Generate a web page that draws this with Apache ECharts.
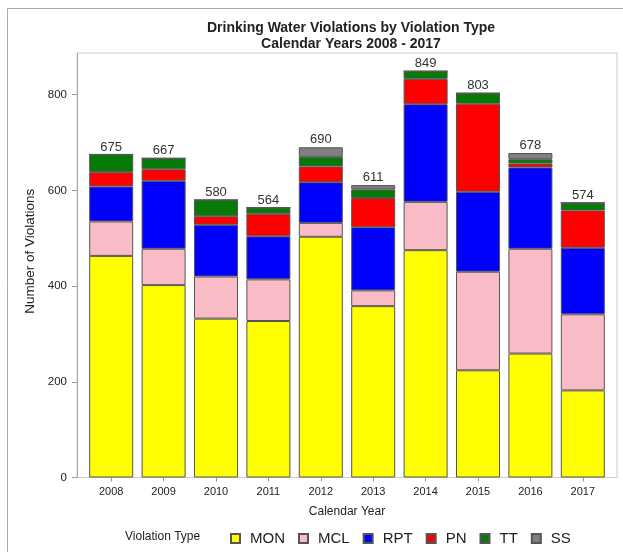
<!DOCTYPE html>
<html>
<head>
<meta charset="utf-8">
<script src="https://cdn.jsdelivr.net/npm/echarts@6/dist/echarts.min.js"></script>
<style>
html,body{margin:0;padding:0;background:#fff;}
#c{width:623px;height:552px;}
</style>
</head>
<body>
<div id="c"></div>
<script>
const years = ['2008','2009','2010','2011','2012','2013','2014','2015','2016','2017'];
const MON = [463,402,332,327,503,358,475,224,259,182];
const MCL = [72,76,88,87,29,33,101,206,219,159];
const RPT = [73,142,108,90,85,132,204,167,170,139];
const PN  = [30,24,18,47,33,61,53,184,8,78];
const TT  = [37,23,34,13,20,18,16,22,9,16];
const SS  = [0,0,0,0,20,9,0,0,13,0];
const yTicks = [0,200,400,600,800];

const seriesDefs = [
  {name:'MON', data:MON, color:'#FFFF00'},
  {name:'MCL', data:MCL, color:'#F9BCC6'},
  {name:'RPT', data:RPT, color:'#0000FF'},
  {name:'PN',  data:PN,  color:'#FF0000'},
  {name:'TT',  data:TT,  color:'#067A06'},
  {name:'SS',  data:SS,  color:'#808080'}
];
const totals = years.map((_, i) => seriesDefs.reduce((s, d) => s + d.data[i], 0));

const FONT = 'Liberation Sans, Arial, sans-serif';
const chart = echarts.init(document.getElementById('c'), null, {renderer:'canvas'});

const series = seriesDefs.map(d => ({
  name: d.name,
  type: 'bar',
  stack: 'v',
  barWidth: 44,
  xAxisIndex: 0, yAxisIndex: 0,
  itemStyle: {color: d.color, borderColor: '#555', borderWidth: 1},
  emphasis: {disabled: true},
  data: d.data
}));
series.push({
  name: 'Total',
  type: 'bar',
  stack: 'v',
  barWidth: 44,
  xAxisIndex: 0, yAxisIndex: 0,
  itemStyle: {color: 'rgba(0,0,0,0)', borderWidth: 0},
  label: {
    show: true, position: 'top', distance: 1,
    fontFamily: FONT, fontSize: 13, color: '#333',
    formatter: p => String(totals[p.dataIndex])
  },
  data: years.map(() => 0)
});

chart.setOption({
  animation: false,
  backgroundColor: '#fff',
  title: {
    text: 'Drinking Water Violations by Violation Type\nCalendar Years 2008 - 2017',
    left: 346, top: 15, textAlign: 'center',
    textStyle: {fontFamily: FONT, fontSize: 14, fontWeight: 'bold', color: '#222', lineHeight: 16}
  },
  graphic: [
    {type:'rect', shape:{x:7.5, y:8.5, width:700, height:700}, style:{fill:'none', stroke:'#aaa', lineWidth:1}, silent:true, z:-10},
    {type:'text', left:125, top:531, style:{text:'Violation Type', font:'12px ' + FONT, fill:'#222'}}
  ],
  legend: {
    data: ['MON','MCL','RPT','PN','TT','SS'],
    left: 225, top: 526,
    icon: 'rect', itemWidth: 9, itemHeight: 9, itemGap: 13,
    textStyle: {fontFamily: FONT, fontSize: 15, color: '#222', padding: [0,0,0,5]},
    selectedMode: false
  },
  grid: [
    {left: 85, right: 14, top: 53, bottom: 74.5, containLabel: false},
    {left: 77, right: 6, top: 53, bottom: 74.5, show: true, borderColor: '#ccc', borderWidth: 1, backgroundColor: 'rgba(0,0,0,0)'}
  ],
  xAxis: [
    {
      type: 'category', gridIndex: 0, data: years,
      axisLine: {show: false},
      axisTick: {show: true, alignWithLabel: true, length: 4, lineStyle: {color: '#999'}},
      axisLabel: {fontFamily: FONT, fontSize: 11, color: '#222', margin: 9},
      name: 'Calendar Year', nameLocation: 'middle', nameGap: 28,
      nameTextStyle: {fontFamily: FONT, fontSize: 12, color: '#222'}
    },
    {type: 'value', gridIndex: 1, show: false}
  ],
  yAxis: [
    {
      type: 'value', gridIndex: 0, min: 0, max: 887, offset: 8,
      axisLine: {show: true, lineStyle: {color: '#aaa'}},
      axisTick: {show: true, length: 5, lineStyle: {color: '#999'}, customValues: yTicks},
      axisLabel: {fontFamily: FONT, fontSize: 11.5, color: '#222', margin: 10, customValues: yTicks},
      splitLine: {show: false},
      name: 'Number of Violations', nameLocation: 'middle', nameGap: 38, nameRotate: 90,
      nameTextStyle: {fontFamily: FONT, fontSize: 13.5, color: '#222', padding: [0,0,0,28]}
    },
    {type: 'value', gridIndex: 1, show: false}
  ],
  series: series
});
</script>
</body>
</html>
